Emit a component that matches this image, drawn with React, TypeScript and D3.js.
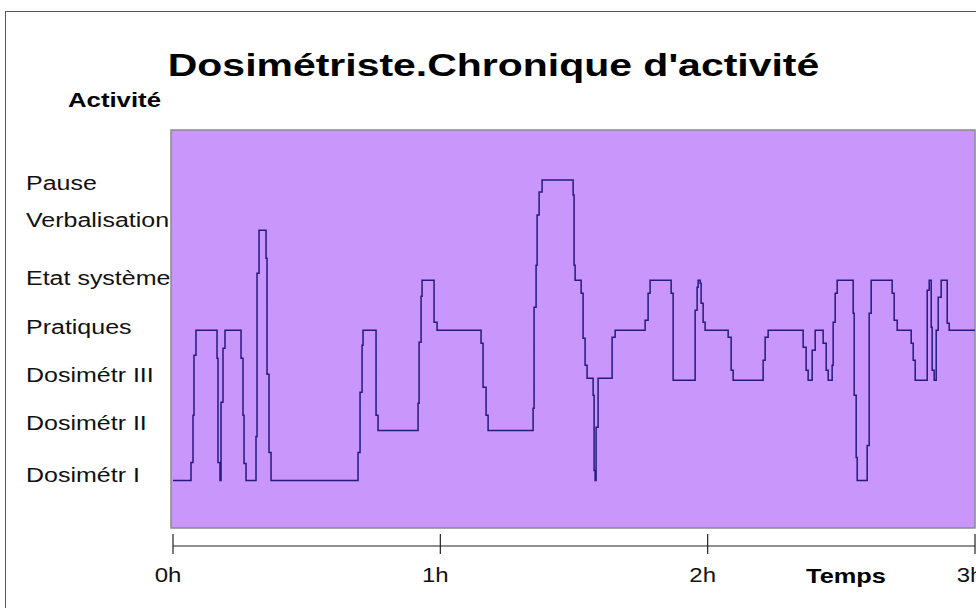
import React from "react";
import * as d3 from "d3";

const activities = ["Dosimétr I", "Dosimétr II", "Dosimétr III", "Pratiques", "Etat système", "Verbalisation", "Pause"];
const hourTicks = [0, 60, 120, 180];
const hourLabels = ["0h", "1h", "2h", "3h"];

// time in minutes, activity level (0 = Dosimétr I ... 6 = Pause)
const timeMinutes = [
  0, 4.04, 4.49, 4.71, 5.16, 9.88, 10.1, 10.55, 10.78, 11.22, 11.67, 15.27, 15.71, 15.94, 16.39,
  18.63, 18.86, 19.31, 20.88, 21.1, 21.55, 22.0, 41.53, 41.98, 42.43, 42.65, 45.57, 46.02,
  55.0, 55.23, 55.68, 55.9, 58.59, 59.27, 69.14, 69.59, 70.27, 70.72, 80.82, 81.04, 81.49,
  81.72, 82.17, 82.84, 89.8, 90.02, 90.25, 91.6, 92.04, 92.49, 92.94, 94.29, 94.51, 94.74,
  94.96, 95.41, 98.55, 99.23, 105.96, 106.63, 107.08, 111.8, 112.25, 117.19, 117.63, 117.86,
  118.31, 118.53, 118.98, 119.43, 124.6, 125.27, 125.72, 132.45, 132.9, 133.57, 141.43, 142.1,
  142.55, 143.45, 144.13, 145.92, 146.6, 147.05, 147.94, 148.17, 148.62, 149.07, 152.66,
  152.88, 153.33, 153.56, 155.8, 156.25, 156.7, 161.41, 161.86, 162.54, 165.68, 166.13,
  166.58, 169.27, 169.72, 170.17, 170.39, 170.84, 171.29, 171.74, 172.41, 173.76, 174.21, 180,
];
const levelValues = [
  0, 0.36, 1.3, 2.5, 3, 2.44, 0.36, 0, 1.56, 2.64, 3, 2.44, 1.3, 0.34, 0,
  0.88, 4.14, 5, 4.44, 2.12, 0.56, 0, 0.56, 1.76, 2.7, 3, 1.3, 1,
  1.54, 2.76, 3.68, 4, 3.16, 3, 2.74, 1.86, 1.3, 1, 1.44, 3.46, 4.3,
  5.3, 5.76, 6, 5.7, 4.3, 4, 3.74, 2.84, 2.3, 2.04, 1.7, 0.2, 0,
  1.06, 2.04, 2.86, 3, 3.2, 3.74, 4, 3.74, 2, 3.4, 3.86, 4,
  3.94, 3.54, 3.16, 3, 2.86, 2.2, 2, 2.4, 2.86, 3, 2.66, 2.2,
  2, 2.6, 3, 2.74, 2.2, 2, 2.3, 3.16, 3.74, 4, 3.34,
  1.7, 0.46, 0, 0.7, 3.34, 4, 3.74, 3.2, 3, 2.74, 2.4,
  2, 3.8, 4, 3.06, 2.2, 2, 3, 3.66, 4, 3.14, 3, 3,
];

const W = 976;
const H = 608;
const plot = { left: 171, right: 975, top: 130, bottom: 528 };
const FONT = "'Liberation Sans', Arial, sans-serif";
// vertical nudges of the category labels (styling only)
const labelNudge = [0, -2, 0, 2, 3, -5, 8];

export default function App() {
  const x = d3.scaleLinear().domain([0, 180]).range([173, 975]);
  const y = d3.scaleLinear().domain([-0.95, 7]).range([plot.bottom, plot.top]);
  const pts: [number, number][] = timeMinutes.map((t, i) => [t, levelValues[i]]);
  const line = d3
    .line<[number, number]>()
    .x((d) => x(d[0]))
    .y((d) => y(d[1]))
    .curve(d3.curveStepAfter);
  const axisY = 546;

  return (
    <svg width={W} height={H} style={{ position: "absolute", left: 0, top: 0, background: "#fff" }}>
      <rect x={0} y={0} width={W} height={H} fill="#fff" />
      <rect x={5.5} y={11.5} width={1000} height={700} fill="none" stroke="#555" strokeWidth={1} />
      <text
        transform={`translate(493.5,76) scale(1.28,1)`}
        textAnchor="middle"
        fontFamily={FONT}
        fontWeight="bold"
        fontSize={32}
        fill="#000"
      >
        Dosimétriste.Chronique d'activité
      </text>
      <text transform={`translate(68,107) scale(1.32,1)`} fontFamily={FONT} fontWeight="bold" fontSize={19.5} fill="#000">
        Activité
      </text>
      <rect
        x={plot.left}
        y={plot.top}
        width={plot.right - plot.left}
        height={plot.bottom - plot.top}
        fill="#C996FC"
        stroke="#8a8a8a"
        strokeWidth={1.5}
      />
      {activities.map((a, i) => (
        <text
          key={a}
          transform={`translate(26,${y(i) + 2 + labelNudge[i]}) scale(1.25,1)`}
          fontFamily={FONT}
          fontSize={20}
          fill="#111"
        >
          {a}
        </text>
      ))}
      <path d={line(pts) || ""} fill="none" stroke="#241a80" strokeWidth={1.5} />
      <line x1={x(0)} x2={x(180)} y1={axisY} y2={axisY} stroke="#222" strokeWidth={1.2} />
      {hourTicks.map((h, i) => (
        <g key={h}>
          <line x1={x(h)} x2={x(h)} y1={axisY - 12} y2={axisY + 8} stroke="#222" strokeWidth={1.2} />
          <text
            transform={`translate(${x(h) - 5},582) scale(1.2,1)`}
            textAnchor="middle"
            fontFamily={FONT}
            fontSize={20}
            fill="#111"
          >
            {hourLabels[i]}
          </text>
        </g>
      ))}
      <text
        transform={`translate(846,583) scale(1.3,1)`}
        textAnchor="middle"
        fontFamily={FONT}
        fontWeight="bold"
        fontSize={19.5}
        fill="#000"
      >
        Temps
      </text>
    </svg>
  );
}
